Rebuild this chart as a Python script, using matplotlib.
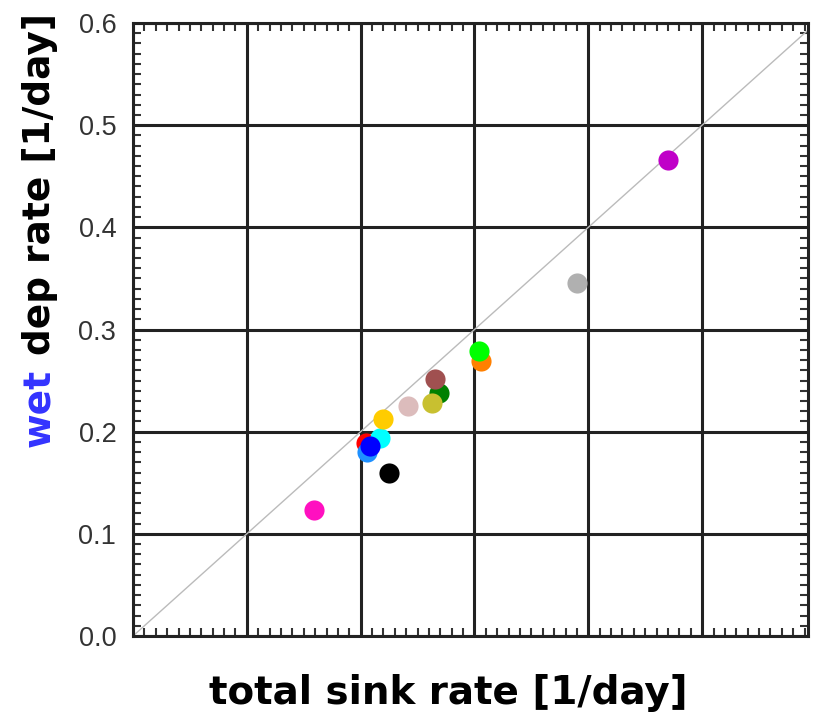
import matplotlib
matplotlib.use("Agg")
import matplotlib.pyplot as plt
from matplotlib.ticker import MultipleLocator

# total sink rate vs wet deposition rate, one point per model
sink_rate = [0.159, 0.225, 0.2045, 0.206, 0.217, 0.208, 0.220, 0.242, 0.269, 0.265, 0.263, 0.306, 0.304, 0.390, 0.470]
wet_rate = [0.123, 0.160, 0.189, 0.180, 0.194, 0.186, 0.212, 0.225, 0.238, 0.252, 0.228, 0.269, 0.279, 0.346, 0.466]
colors = ["#ff10c0", "#000000", "#ff0000", "#1e90ff", "#00ffff", "#0000ff", "#ffcc00", "#dcbcbc",
          "#008000", "#a05050", "#c8c030", "#ff8000", "#00ff00", "#b0b0b0", "#c000c8"]

xlim = (0.0, 0.593)
ylim = (0.0, 0.6)
yticks = [0.0, 0.1, 0.2, 0.3, 0.4, 0.5, 0.6]
ytick_labels = ["0.0", "0.1", "0.2", "0.3", "0.4", "0.5", "0.6"]

fig = plt.figure(figsize=(8.16, 7.21), dpi=100)
ax = fig.add_axes([133 / 816, 85 / 721, 675 / 816, 613 / 721])

ax.plot([0, 0.6], [0, 0.6], color="#bbbbbb", lw=1.0, zorder=2)
for x, y, c in zip(sink_rate, wet_rate, colors):
    ax.plot(x, y, "o", ms=14.5, color=c, mec="none", zorder=3)

ax.set_xlim(*xlim)
ax.set_ylim(*ylim)
ax.xaxis.set_major_locator(MultipleLocator(0.1))
ax.xaxis.set_minor_locator(MultipleLocator(0.01))
ax.set_yticks(yticks)
ax.set_yticklabels(ytick_labels, fontfamily="Liberation Sans", fontsize=19.5, color="#333333")
ax.yaxis.set_minor_locator(MultipleLocator(0.01))
ax.set_xticklabels([])
ax.grid(True, which="major", color="#222222", lw=2.2, zorder=1)
ax.tick_params(which="major", length=0, pad=12)
ax.tick_params(which="minor", direction="in", length=6, width=1.5, color="#333333",
               top=True, right=True, left=True, bottom=True)
for s in ax.spines.values():
    s.set_linewidth(2.2)
    s.set_color("#222222")

fig.text(448 / 816, 1 - 693 / 721, "total sink rate [1/day]", ha="center", va="center",
         fontsize=28, fontweight="bold")

# two-coloured y label: "wet" in blue, rest in black
fig.canvas.draw()
r = fig.canvas.get_renderer()
t1 = fig.text(40 / 816, 1 - 447 / 721, "wet", rotation=90, ha="center", va="bottom",
              fontsize=27, fontweight="bold", color="#3333ff")
bb = t1.get_window_extent(renderer=r)
top = (bb.y1 + 14) / fig.bbox.height
fig.text(40 / 816, top, "dep rate [1/day]", rotation=90, ha="center", va="bottom",
         fontsize=27, fontweight="bold", color="black")

fig.savefig("out.png", dpi=100)
